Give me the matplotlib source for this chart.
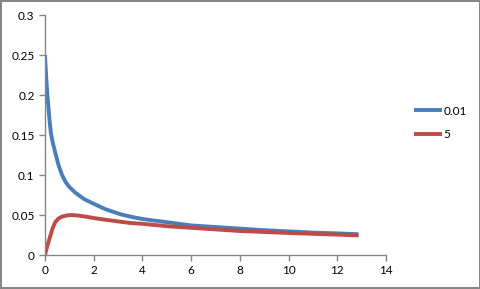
import matplotlib.pyplot as plt

# values
x_blue = [0.0, 0.03, 0.06, 0.1, 0.15, 0.2, 0.25, 0.33, 0.42, 0.55, 0.7, 0.85, 1.0, 1.24, 1.6,
          2.0, 2.5, 3.09, 3.5, 4.0, 5.0, 6.0, 7.0, 8.0, 9.0, 10.0, 11.0, 12.0, 12.87]
y_blue = [0.250, 0.232, 0.217, 0.200, 0.181, 0.164, 0.151, 0.139, 0.128, 0.113, 0.100, 0.091,
          0.085, 0.078, 0.070, 0.064, 0.057, 0.051, 0.048, 0.045, 0.041, 0.037, 0.035, 0.033,
          0.031, 0.0295, 0.028, 0.027, 0.026]

x_red = [0.0, 0.05, 0.1, 0.22, 0.32, 0.42, 0.55, 0.7, 0.9, 1.11, 1.4, 1.7, 2.0, 2.5,
         3.09, 3.5, 4.0, 5.0, 6.0, 7.0, 8.0, 9.0, 10.0, 11.0, 12.0, 12.87]
y_red = [0.0, 0.006, 0.012, 0.024, 0.034, 0.041, 0.0455, 0.048, 0.0495, 0.050, 0.0492,
         0.0478, 0.0462, 0.044, 0.0416, 0.040, 0.039, 0.036, 0.034, 0.032, 0.030, 0.0288,
         0.0275, 0.0265, 0.0255, 0.0245]

labels = ['0.01', '5']

plt.rcParams['font.family'] = ['Lato', 'DejaVu Sans']
fig = plt.figure(figsize=(4.81, 2.89), dpi=100)
fig.patch.set_edgecolor('#868686')
fig.patch.set_linewidth(1.5)
ax = fig.add_axes([45 / 481, 34 / 289, 341 / 481, 240 / 289])

ax.plot(x_blue, y_blue, color='#4A7EBB', lw=2.8, label=labels[0], solid_capstyle='butt')
ax.plot(x_red, y_red, color='#BE4B48', lw=2.8, label=labels[1], solid_capstyle='butt')

ax.set_xlim(0, 14)
ax.set_ylim(0, 0.3)
ax.set_xticks(range(0, 15, 2))
ax.set_yticks([0, 0.05, 0.1, 0.15, 0.2, 0.25, 0.3])
ax.set_yticklabels(['0', '0.05', '0.1', '0.15', '0.2', '0.25', '0.3'])

for s in ['top', 'right']:
    ax.spines[s].set_visible(False)
for s in ['left', 'bottom']:
    ax.spines[s].set_color('#868686')
    ax.spines[s].set_linewidth(1)
ax.tick_params(colors='#868686', labelcolor='black', labelsize=8.5, length=4, width=1)

ax.legend(loc='center left', bbox_to_anchor=(1.05, 0.55), frameon=False, fontsize=8.5,
          handlelength=2.4, handletextpad=0.1, labelspacing=1.1)

fig.savefig('out.png', dpi=100, edgecolor=fig.get_edgecolor())
